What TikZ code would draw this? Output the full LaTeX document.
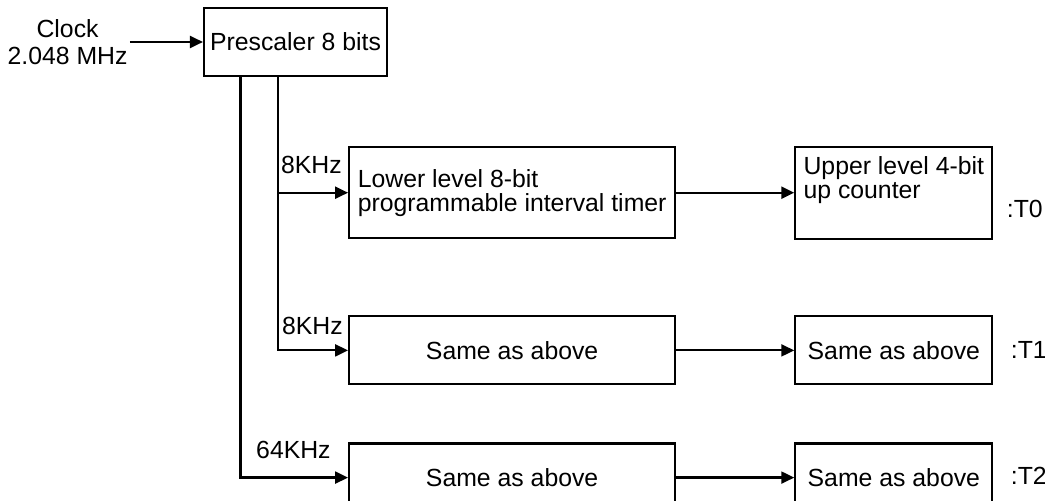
\documentclass[tikz,border=0pt]{standalone}
\usepackage{fontspec}
\setmainfont{Liberation Sans}
\usetikzlibrary{arrows.meta, positioning}

\begin{document}
\begin{tikzpicture}[
  font=\fontsize{12.4pt}{12pt}\selectfont,
  box/.style={rectangle, draw=black, line width=1.1pt, align=left, inner sep=3pt},
  timer/.style={box, minimum width=163pt, minimum height=34pt},
  counter/.style={box, minimum width=98.5pt, minimum height=34pt},
  freq/.style={inner sep=0pt},
  tag/.style={inner sep=0pt},
  arrow/.style={-{Triangle[length=6.5pt, width=6pt]}, line width=1.1pt}
]
\useasboundingbox (0,0) rectangle (522.5pt,-250.5pt);
\node[box, minimum width=90.5pt, minimum height=34pt] (presc) at (147.75pt,-21pt) {Prescaler 8 bits};
\node[align=center, inner sep=1pt, left=36.5pt of presc, font=\fontsize{12.4pt}{13.5pt}\selectfont] (clock) {Clock\\2.048 MHz};

\node[timer, minimum height=45.5pt, below right=34.5pt and -20pt of presc] (pit0) {Lower level 8-bit\\programmable interval timer};
\node[counter, minimum height=46pt, text depth=15pt, right=59pt of pit0] (cnt0) {Upper level 4-bit\\up counter};
\node[timer, below=38pt of pit0] (pit1) {Same as above};
\node[counter, right=59pt of pit1] (cnt1) {Same as above};
\node[timer, below=28.5pt of pit1] (pit2) {Same as above};
\node[counter, right=59pt of pit2] (cnt2) {Same as above};

\node[freq, below left=5pt and 3pt of pit0.north west] (f0) {8KHz};
\node[freq, below left=0.5pt and 2.5pt of pit1.north west] (f1) {8KHz};
\node[freq, below left=-1pt and 8.5pt of pit2.north west] (f2) {64KHz};

\node[tag, right=6.5pt of cnt0, yshift=-8pt] (t0) {:T0};
\node[tag, right=8.5pt of cnt1] (t1) {:T1};
\node[tag, right=8.5pt of cnt2, yshift=1pt] (t2) {:T2};

\draw[arrow] (clock) -- (presc);
\draw[arrow] ([xshift=-8.75pt]presc.south) |- (pit0.west);
\draw[arrow] ([xshift=-8.75pt]presc.south) |- (pit1.west);
\draw[arrow] ([xshift=-27.5pt]presc.south) |- (pit2.west);
\draw[arrow] (pit0) -- (cnt0);
\draw[arrow] (pit1) -- (cnt1);
\draw[arrow] (pit2) -- (cnt2);
\end{tikzpicture}
\end{document}
